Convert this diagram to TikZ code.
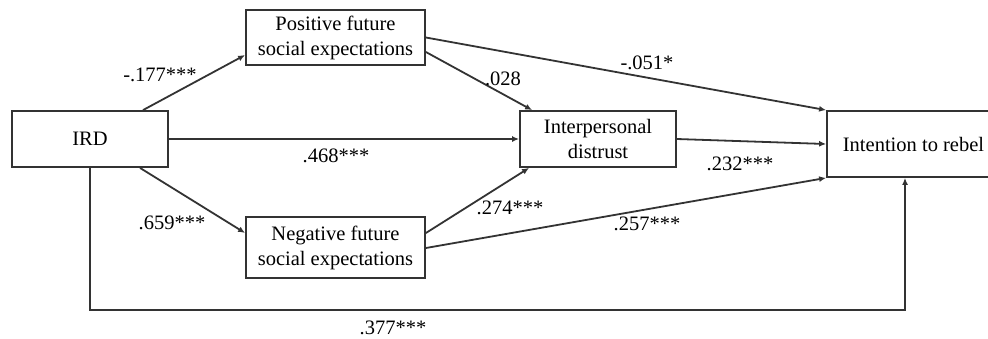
\documentclass[tikz,border=0pt]{standalone}
\usepackage{fontspec}
\setmainfont{Liberation Serif}
\newfontfamily\tnr{Liberation Serif}
\usetikzlibrary{arrows.meta}
\definecolor{ln}{HTML}{333333}
\begin{document}
\begin{tikzpicture}[x=1pt,y=-1pt,
  box/.style={draw=ln,line width=1.8pt,rectangle,inner sep=0pt,align=center,
    font=\tnr\fontsize{20.5}{25}\selectfont},
  lab/.style={inner sep=0pt,font=\tnr\fontsize{20.5}{25}\selectfont},
  arr/.style={draw=ln,line width=1.8pt,-{Latex[length=7pt,width=6pt]}}]
\useasboundingbox (0,0) rectangle (988,338);
\node[box,minimum width=156pt,minimum height=56pt] (ird) at (90,139) {IRD};
\node[box,minimum width=179pt,minimum height=55pt] (pos) at (335.5,37.5) {Positive future\\social expectations};
\node[box,minimum width=179pt,minimum height=61pt] (neg) at (335.5,247.5) {Negative future\\social expectations};
\node[box,minimum width=156pt,minimum height=56pt] (dist) at (598,139) {Interpersonal\\distrust};
\node[box,minimum width=173pt,minimum height=66pt] (reb) at (913.5,144) {Intention to rebel};
\coordinate (bc) at (905,310);
\draw[arr] ([xshift=53pt]ird.north) -- ([yshift=-17.5pt]pos.west);
\draw[arr] (ird.east) -- (dist.west);
\draw[arr] ([xshift=50pt]ird.south) -- ([yshift=14.5pt]neg.west);
\draw[arr] (pos.east) -- (reb.north west);
\draw[arr] ([yshift=-14.5pt]pos.east) -- ([xshift=13pt]dist.north west);
\draw[arr] (dist.east) -- (reb.west);
\draw[arr] ([yshift=14.5pt]neg.east) -- ([xshift=10pt]dist.south west);
\draw[arr] ([yshift=-0.5pt]neg.east) -- (reb.south west);
\draw[arr] (ird.south) |- (bc) -- (reb.south -| bc);
\node[lab] (l1) at (160,75) {-.177***};
\node[lab] (l2) at (336,156) {.468***};
\node[lab] (l3) at (503,79) {.028};
\node[lab] (l4) at (647,63) {-.051*};
\node[lab] (l5) at (740,164) {.232***};
\node[lab] (l6) at (510,208) {.274***};
\node[lab] (l7) at (647,224) {.257***};
\node[lab] (l8) at (172,223) {.659***};
\node[lab] (l9) at (393,328) {.377***};
\end{tikzpicture}
\end{document}
